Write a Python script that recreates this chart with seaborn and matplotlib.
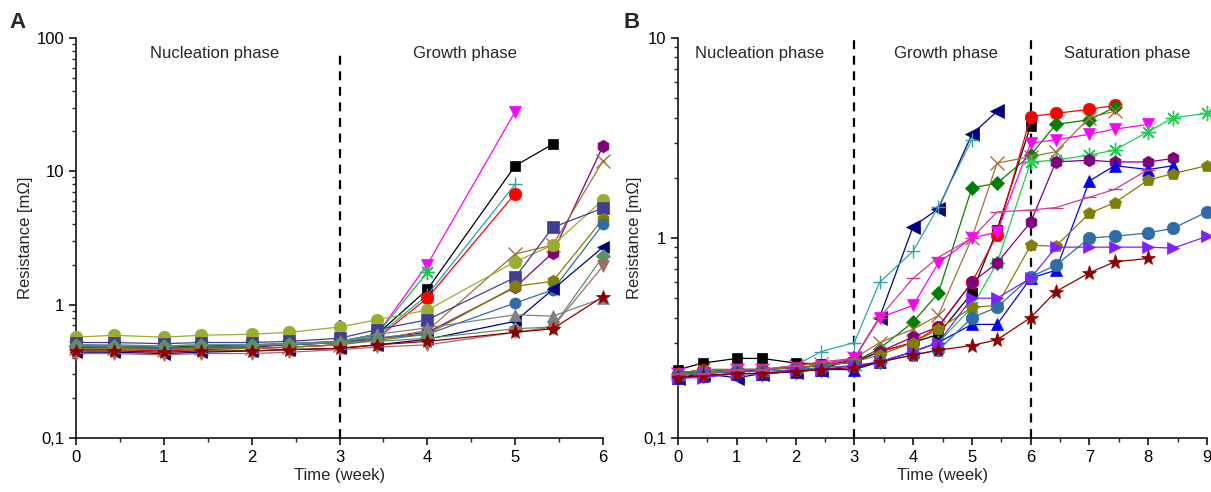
import numpy as np
import pandas as pd
import matplotlib
matplotlib.use("Agg")
import matplotlib.pyplot as plt
from matplotlib.ticker import FixedLocator, FixedFormatter, LogLocator, NullFormatter, MultipleLocator
import seaborn as sns

nan = np.nan

# ---------------- data ----------------
DAYS_A = [0, 3, 7, 10, 14, 17, 21, 24, 28, 35, 38, 42]
DAYS_B = [0, 3, 7, 10, 14, 17, 21, 24, 28, 31, 35, 38, 42, 45, 49, 52, 56, 59, 63]

A_magenta = [0.47, 0.47, 0.46, 0.47, 0.47, 0.48, 0.50, 0.60, 2.0, 28, nan, nan]
A_black = [0.50, 0.49, 0.48, 0.49, 0.50, 0.51, 0.53, 0.60, 1.3, 11, 16, nan]
A_teal = [0.48, 0.48, 0.47, 0.48, 0.49, 0.50, 0.52, 0.58, 1.18, 8.0, nan, nan]
A_red = [0.46, 0.46, 0.45, 0.46, 0.47, 0.48, 0.50, 0.56, 1.12, 6.8, nan, nan]
A_green = [0.49, 0.48, 0.48, 0.48, 0.49, 0.50, 0.53, 0.60, 1.75, nan, nan, nan]
A_purple = [0.48, 0.48, 0.47, 0.48, 0.48, 0.50, 0.52, 0.56, 0.62, 1.35, 2.45, 15.5]
A_brown = [0.47, 0.47, 0.46, 0.47, 0.47, 0.48, 0.50, 0.55, 0.64, 2.4, 2.8, 12]
A_ygreen = [0.57, 0.59, 0.57, 0.59, 0.60, 0.62, 0.68, 0.77, 0.91, 2.1, 2.8, 6.1]
A_slate = [0.52, 0.52, 0.51, 0.52, 0.52, 0.53, 0.56, 0.65, 0.77, 1.6, 3.8, 5.3]
A_olive = [0.47, 0.47, 0.46, 0.47, 0.47, 0.48, 0.50, 0.54, 0.60, 1.37, 1.5, 4.4]
A_steel = [0.49, 0.48, 0.47, 0.48, 0.49, 0.50, 0.52, 0.56, 0.60, 1.03, 1.29, 4.0]
A_navy = [0.44, 0.44, 0.43, 0.44, 0.45, 0.46, 0.47, 0.50, 0.55, 0.75, 1.3, 2.7]
A_gray = [0.50, 0.50, 0.49, 0.50, 0.50, 0.51, 0.53, 0.60, 0.67, 0.84, 0.82, 1.12]
A_sea = [0.50, 0.49, 0.49, 0.50, 0.50, 0.51, 0.52, 0.53, 0.56, 0.66, 0.68, 2.3]
A_rosy = [0.43, 0.43, 0.42, 0.43, 0.43, 0.44, 0.46, 0.48, 0.50, 0.62, 0.68, 1.95]
A_darkred = [0.45, 0.45, 0.44, 0.45, 0.45, 0.46, 0.47, 0.50, 0.53, 0.62, 0.66, 1.15]

B_navy = [0.20, 0.21, 0.20, 0.21, 0.215, 0.22, 0.25, 0.40, 1.14, 1.4, 3.3, 4.3]
B_teal = [0.21, 0.22, 0.22, 0.22, 0.23, 0.27, 0.30, 0.60, 0.86, 1.43, 3.1]
B_black = [0.22, 0.237, 0.25, 0.25, 0.237, 0.235, 0.24, 0.27, 0.30, 0.33, 0.53, 1.1, 3.65]
B_red = [0.21, 0.22, 0.22, 0.22, 0.225, 0.23, 0.24, 0.27, 0.30, 0.36, 0.60, 1.04, 4.05, 4.2, 4.4, 4.6]
B_dgreen = [0.21, 0.215, 0.22, 0.22, 0.225, 0.23, 0.24, 0.28, 0.38, 0.53, 1.78, 1.88, 2.6, 3.7, 3.9, 4.5]
B_brown = [0.21, 0.22, 0.22, 0.22, 0.23, 0.235, 0.25, 0.30, 0.35, 0.41, 1.0, 2.37, 2.55, 2.7, 4.0, 4.3]
B_magenta = [0.21, 0.21, 0.22, 0.22, 0.225, 0.23, 0.25, 0.40, 0.46, 0.75, 1.0, 1.07, 2.98, 3.1, 3.3, 3.5, 3.7]
B_sgreen = [0.20, 0.205, 0.21, 0.21, 0.215, 0.22, 0.22, 0.24, 0.27, 0.30, 0.45, 0.75, 2.4, 2.45, 2.6, 2.75, 3.4, 4.0, 4.2]
B_purple = [0.21, 0.21, 0.215, 0.22, 0.225, 0.23, 0.24, 0.27, 0.32, 0.36, 0.60, 0.75, 1.2, 2.4, 2.45, 2.4, 2.4, 2.5]
B_blue = [0.20, 0.205, 0.21, 0.21, 0.215, 0.22, 0.22, 0.24, 0.27, 0.30, 0.37, 0.37, 0.63, 0.69, 1.93, 2.3, 2.2, 2.3]
B_olive = [0.21, 0.21, 0.22, 0.22, 0.225, 0.23, 0.24, 0.26, 0.30, 0.35, 0.45, 0.46, 0.92, 0.91, 1.33, 1.5, 1.95, 2.1, 2.3]
B_steel = [0.205, 0.21, 0.215, 0.215, 0.22, 0.225, 0.23, 0.24, 0.26, 0.275, 0.40, 0.45, 0.64, 0.73, 1.0, 1.02, 1.06, 1.12, 1.35]
B_violet = [0.20, 0.20, 0.21, 0.21, 0.22, 0.22, 0.23, 0.24, 0.27, 0.30, 0.50, 0.50, 0.63, 0.90, 0.90, 0.90, 0.90, 0.89, 1.02]
B_darkred = [0.20, 0.205, 0.21, 0.21, 0.215, 0.22, 0.225, 0.24, 0.26, 0.275, 0.29, 0.31, 0.40, 0.54, 0.67, 0.76, 0.79]
B_pink = [0.21, 0.21, 0.22, 0.22, 0.23, 0.24, 0.25, 0.40, 0.63, 0.80, 1.0, 1.35, 1.38, 1.42, 1.6, 1.75, 2.2]

# ---------------- styles ----------------
STYLE_A = [
    (A_magenta, "#FF00FF", "v", 9),
    (A_black, "#000000", "s", 7),
    (A_teal, "#2AA5A5", "+", 10),
    (A_red, "#FF0000", "o", 9),
    (A_green, "#22C050", (8, 2, 0), 11),
    (A_purple, "#800080", "h", 9),
    (A_brown, "#A5703A", "x", 10),
    (A_ygreen, "#98AE2C", "o", 9),
    (A_slate, "#3F3F99", "s", 8),
    (A_olive, "#808000", "h", 9),
    (A_steel, "#2E6DA8", "o", 8),
    (A_navy, "#000080", "<", 8),
    (A_gray, "#808080", "^", 9),
    (A_sea, "#5C9160", "D", 7),
    (A_rosy, "#9E6B6B", "v", 9),
    (A_darkred, "#8B0000", "*", 10),
]
STYLE_B = [
    (B_navy, "#000080", "<", 10),
    (B_teal, "#30A5A5", "+", 10),
    (B_black, "#000000", "s", 7),
    (B_red, "#FF0000", "o", 9),
    (B_dgreen, "#008000", "D", 7),
    (B_brown, "#A5703A", "x", 10),
    (B_magenta, "#FF00FF", "v", 9),
    (B_sgreen, "#22CC55", (8, 2, 0), 11),
    (B_purple, "#800080", "h", 9),
    (B_blue, "#0000FF", "^", 9),
    (B_olive, "#808000", "p", 9),
    (B_steel, "#2E6DA8", "o", 9),
    (B_violet, "#8020FF", ">", 9),
    (B_darkred, "#8B0000", "*", 11),
    (B_pink, "#C8408C", "_", 10),
]

sns.set_style("ticks")
plt.rcParams["font.family"] = ["Liberation Sans", "DejaVu Sans"]
plt.rcParams["axes.linewidth"] = 1.1

fig = plt.figure(figsize=(12.11, 4.92), dpi=100)
axA = fig.add_axes([76 / 1211, 1 - 438 / 492, (603 - 76) / 1211, 400 / 492])
axB = fig.add_axes([678 / 1211, 1 - 438 / 492, (1207 - 678) / 1211, 400 / 492])


def draw(ax, days, styles):
    weeks = np.array(days, dtype=float) / 7.0
    for vals, col, mk, ms in styles:
        v = np.array(vals, dtype=float)
        w = weeks[: len(v)]
        ok = ~np.isnan(v)
        df = pd.DataFrame({"week": w[ok], "res": v[ok]})
        line_marker = mk in ("+", "x", "_") or isinstance(mk, tuple)
        sns.lineplot(data=df, x="week", y="res", ax=ax, color=col, marker=mk,
                     markersize=ms, markeredgecolor=col,
                     markerfacecolor=col,
                     markeredgewidth=1.0 if line_marker else 0.5,
                     linewidth=0.9, estimator=None, sort=False, legend=False,
                     clip_on=False, zorder=3)


draw(axA, DAYS_A, STYLE_A)
draw(axB, DAYS_B, STYLE_B)

for ax in (axA, axB):
    ax.set_yscale("log")
    sns.despine(ax=ax)
    ax.set_xlabel("Time (week)", fontsize=12, labelpad=2)
    ax.set_ylabel("Resistance [m\u03a9]", fontsize=12)
    ax.xaxis.set_major_locator(MultipleLocator(1))
    ax.xaxis.set_minor_locator(MultipleLocator(0.5))
    ax.tick_params(axis="both", which="major", labelsize=12, length=5, width=1.1, colors="black")
    ax.tick_params(axis="both", which="minor", length=3, width=1.0)
    ax.yaxis.set_minor_locator(LogLocator(base=10, subs=np.arange(2, 10)))
    ax.yaxis.set_minor_formatter(NullFormatter())
    for s in ax.spines.values():
        s.set_color("black")

axA.yaxis.set_label_coords(-0.082, 0.5)
axB.yaxis.set_label_coords(-0.068, 0.5)

axA.set_xlim(0, 6)
axA.set_ylim(0.1, 100)
axA.yaxis.set_major_locator(FixedLocator([0.1, 1, 10, 100]))
axA.yaxis.set_major_formatter(FixedFormatter(["0,1", "1", "10", "100"]))
axB.set_xlim(0, 9)
axB.set_ylim(0.1, 10)
axB.yaxis.set_major_locator(FixedLocator([0.1, 1, 10]))
axB.yaxis.set_major_formatter(FixedFormatter(["0,1", "1", "10"]))

axA.axvline(3, ymin=0, ymax=0.97, color="black", linestyle=(0, (4, 3)), linewidth=1.6)
axB.axvline(3, ymin=0, ymax=1.0, color="black", linestyle=(0, (4, 3)), linewidth=1.6)
axB.axvline(6, ymin=0, ymax=1.0, color="black", linestyle=(0, (4, 3)), linewidth=1.6)

tkw = dict(fontsize=12, ha="center", va="center")
axA.text(1.58, 0.962, "Nucleation phase", transform=axA.get_xaxis_transform(), **tkw)
axA.text(4.43, 0.962, "Growth phase", transform=axA.get_xaxis_transform(), **tkw)
axB.text(1.39, 0.962, "Nucleation phase", transform=axB.get_xaxis_transform(), **tkw)
axB.text(4.56, 0.962, "Growth phase", transform=axB.get_xaxis_transform(), **tkw)
axB.text(7.65, 0.962, "Saturation phase", transform=axB.get_xaxis_transform(), **tkw)

fig.text(18 / 1211, 1 - 22 / 492, "A", fontsize=16, fontweight="bold", ha="center", va="center")
fig.text(632 / 1211, 1 - 22 / 492, "B", fontsize=16, fontweight="bold", ha="center", va="center")

fig.savefig("out.png", dpi=100)
